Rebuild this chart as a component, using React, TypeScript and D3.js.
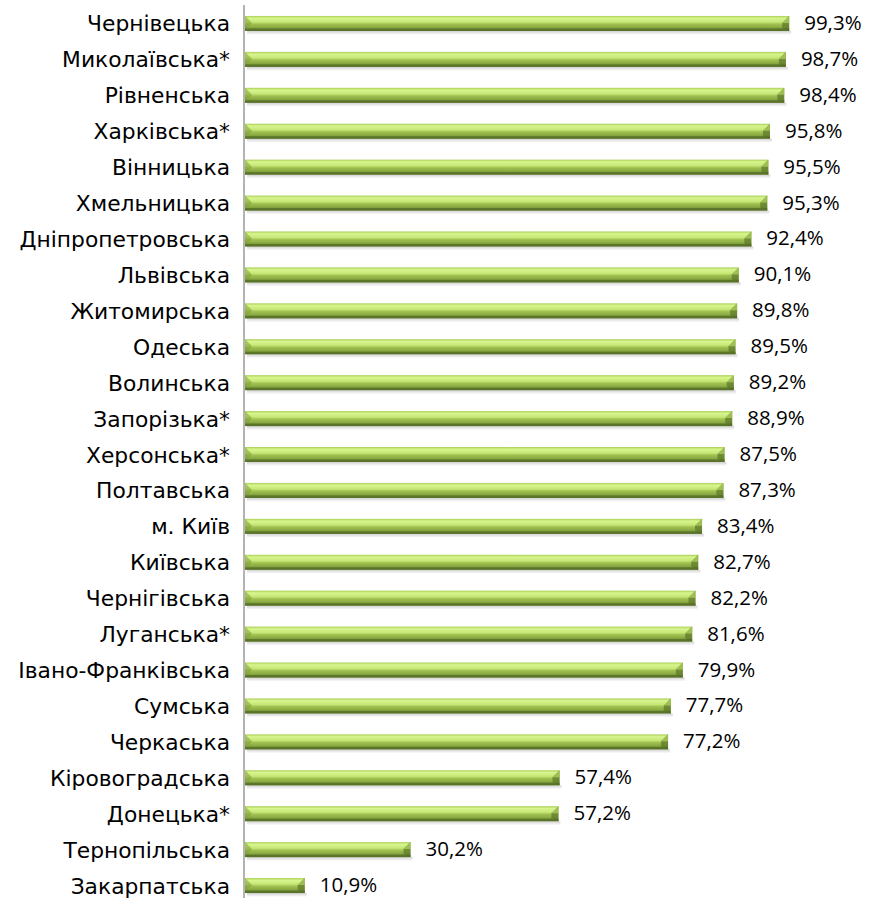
import React from "react";
import * as d3 from "d3";

const regions = [
  "Чернівецька", "Миколаївська*", "Рівненська", "Харківська*", "Вінницька",
  "Хмельницька", "Дніпропетровська", "Львівська", "Житомирська", "Одеська",
  "Волинська", "Запорізька*", "Херсонська*", "Полтавська", "м. Київ",
  "Київська", "Чернігівська", "Луганська*", "Івано-Франківська", "Сумська",
  "Черкаська", "Кіровоградська", "Донецька*", "Тернопільська", "Закарпатська",
];
const values = [
  99.3, 98.7, 98.4, 95.8, 95.5, 95.3, 92.4, 90.1, 89.8, 89.5, 89.2, 88.9, 87.5,
  87.3, 83.4, 82.7, 82.2, 81.6, 79.9, 77.7, 77.2, 57.4, 57.2, 30.2, 10.9,
];

const W = 876;
const H = 898;
const axisX = 244;
const LABEL_FONT = "'DejaVu Sans', 'Open Sans', sans-serif";
const VALUE_FONT = "'Open Sans', sans-serif";

export default function App() {
  const x = d3.scaleLinear().domain([0, 100]).range([axisX + 1, axisX + 1 + 548]);
  const y = d3.scaleBand<string>().domain(regions).range([5.5, 903.5]).paddingInner(0.58).paddingOuter(0.29);
  const bh = 15;
  const bev = 7;
  const fmt = (v: number) => v.toFixed(1).replace(".", ",") + "%";

  return (
    <svg width={W} height={H} style={{ position: "absolute", left: 0, top: 0 }}>
      <defs>
        <linearGradient id="barG" x1="0" y1="0" x2="0" y2="1">
          <stop offset="0" stopColor="#a9cf55" />
          <stop offset="0.15" stopColor="#d8f58e" />
          <stop offset="0.4" stopColor="#c7e777" />
          <stop offset="0.55" stopColor="#9fc04f" />
          <stop offset="0.75" stopColor="#8bab43" />
          <stop offset="1" stopColor="#5f7a2b" />
        </linearGradient>
        <linearGradient id="shadowG" x1="0" y1="0" x2="0" y2="1">
          <stop offset="0" stopColor="#000" stopOpacity="0.18" />
          <stop offset="1" stopColor="#000" stopOpacity="0" />
        </linearGradient>
      </defs>
      <rect width={W} height={H} fill="#fff" />
      {regions.map((r, i) => {
        const cy = (y(r) as number) + y.bandwidth() / 2;
        const top = cy - bh / 2;
        const x0 = x(0);
        const x1 = x(values[i]);
        const w = x1 - x0;
        return (
          <g key={r}>
            <rect x={x0 + 2} y={top + bh} width={w} height={4} fill="url(#shadowG)" />
            <rect x={x0} y={top} width={w} height={bh} fill="url(#barG)" />
            <polygon
              points={`${x0},${top} ${x0 + bev},${top + bev} ${x0},${top + bh}`}
              fill="#7f9e3a"
              opacity={0.55}
            />
            <polygon
              points={`${x1},${top} ${x1 - bev},${top + bev} ${x1 - bev},${top + bh - 3} ${x1},${top + bh}`}
              fill="#5f7a2b"
              opacity={0.75}
            />
            <polygon
              points={`${x1},${top} ${x1 - bev},${top + bev} ${x1},${top + bev}`}
              fill="#a8c95a"
              opacity={0.8}
            />
            <rect x={x0} y={top + bh - 2.5} width={w} height={2.5} fill="#536b25" opacity={0.7} />
            <text
              x={230}
              y={cy + 8}
              textAnchor="end"
              fontFamily={LABEL_FONT}
              fontSize={21.8}
              fill="#000"
            >
              {r}
            </text>
            <text
              x={x1 + 15}
              y={cy + 6.5}
              fontFamily={VALUE_FONT}
              fontSize={20.5}
              fill="#000"
            >
              {fmt(values[i])}
            </text>
          </g>
        );
      })}
      <line x1={axisX} x2={axisX} y1={5} y2={H} stroke="#9a9a9a" strokeWidth={1.5} />
    </svg>
  );
}
